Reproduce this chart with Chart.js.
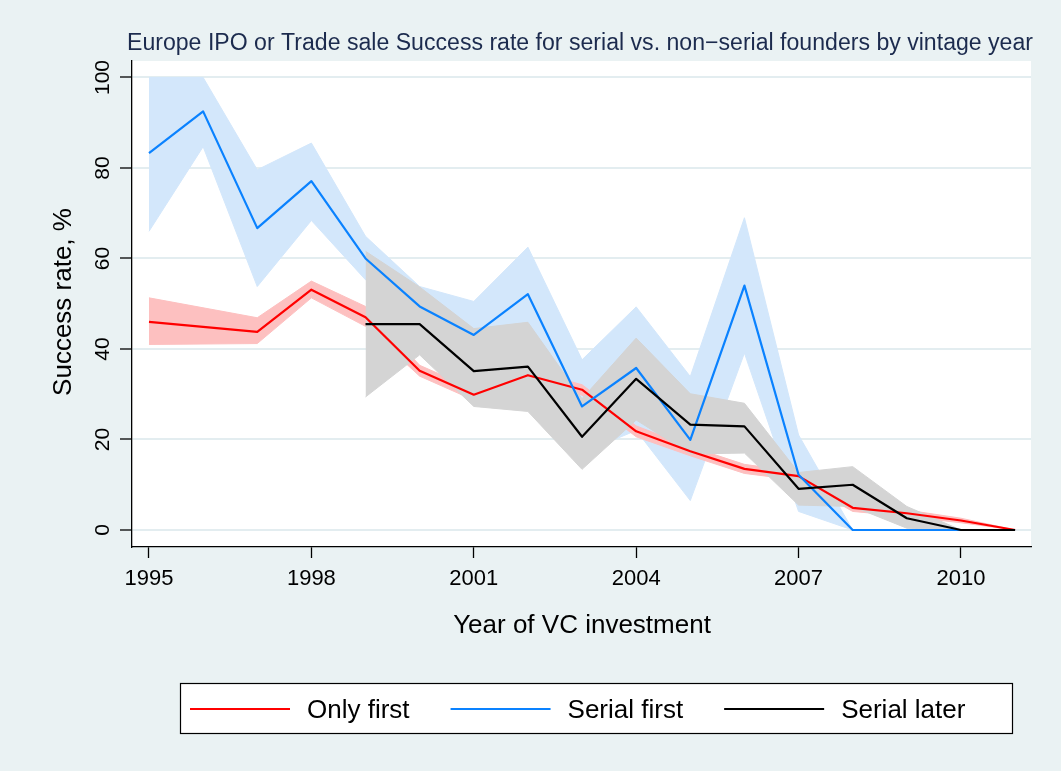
<!DOCTYPE html>
<html lang="en">
<head>
  <meta charset="UTF-8">
  <title>Europe IPO or Trade sale Success rate</title>
  <script src="https://cdn.jsdelivr.net/npm/chart.js"></script>
  <style>
    html, body { margin: 0; padding: 0; background: #eaf2f3; }
    canvas { display: block; }
  </style>
</head>
<body>
<canvas id="chart" width="1061" height="771"></canvas>
<script>
  const FONT = '"Liberation Sans", Arial, Helvetica, sans-serif';

  const titleText = 'Europe IPO or Trade sale Success rate for serial vs. non\u2212serial founders by vintage year';
  const xTitle = 'Year of VC investment';
  const yTitle = 'Success rate, %';

  const years = [1995, 1996, 1997, 1998, 1999, 2000, 2001, 2002, 2003, 2004, 2005, 2006, 2007, 2008, 2009, 2010, 2011];
  const xTicks = [1995, 1998, 2001, 2004, 2007, 2010];
  const yTicks = [0, 20, 40, 60, 80, 100];

  // Only first founders
  const onlyFirst   = [46.0, null, 43.8, 53.1, 47.0, 35.2, 29.9, 34.2, 31.0, 21.8, 17.4, 13.5, 11.9, 4.9, 3.7, 2.1, 0];
  const onlyFirstLo = [41.0, null, 41.2, 51.3, 45.0, 34.0, 28.7, 33.0, 29.8, 20.6, 16.4, 12.5, 11.0, 4.1, 3.0, 1.6, 0];
  const onlyFirstHi = [51.3, null, 46.9, 55.0, 49.4, 36.4, 31.1, 35.4, 32.1, 23.0, 18.4, 14.5, 12.8, 5.8, 4.4, 2.6, 0];

  // Serial founders, first venture
  const serialFirst   = [83.3, 92.5, 66.7, 77.1, 60.0, 49.4, 43.1, 52.1, 27.3, 35.8, 19.9, 54.0, 12.2, 0, 0, 0, null];
  const serialFirstLo = [66.0, 84.7, 53.8, 68.4, 55.3, 45.0, 38.0, 42.0, 17.0, 22.0, 6.5, 39.1, 4.1, 0, 0, 0, null];
  const serialFirstHi = [100, 100, 79.6, 85.5, 64.9, 53.8, 50.5, 62.5, 37.6, 49.3, 33.9, 69.0, 21.0, 0, 0, 0, null];

  // Serial founders, later ventures
  const serialLater   = [null, null, null, null, 45.5, 45.5, 35.1, 36.1, 20.6, 33.4, 23.3, 22.9, 9.1, 10.0, 2.6, 0, 0];
  const serialLaterLo = [null, null, null, null, 29.4, 38.7, 27.3, 26.2, 13.4, 24.3, 16.8, 17.0, 5.5, 5.2, 0.4, 0, 0];
  const serialLaterHi = [null, null, null, null, 61.6, 53.7, 44.5, 45.9, 29.0, 42.4, 30.1, 28.0, 12.7, 14.0, 5.2, 0, 0];

  const seriesNames = ['Only first', 'Serial first', 'Serial later'];
  const lineColors = ['#ff0000', '#0a82ff', '#000000'];
  const bandColors = ['#fdc0c0', '#d3e7fb', '#d4d4d4'];

  function pts(arr) {
    return years.map((x, i) => ({ x: x, y: arr[i] })).filter(p => p.y !== null);
  }

  function bandSets(lo, hi, color) {
    return [
      { label: 'lo', data: pts(lo), borderColor: color, borderWidth: 1, pointRadius: 0, fill: false },
      { label: 'hi', data: pts(hi), borderColor: color, borderWidth: 1, pointRadius: 0, fill: '-1', backgroundColor: color }
    ];
  }

  function lineSet(name, arr, color) {
    return { label: name, data: pts(arr), borderColor: color, borderWidth: 2.2, pointRadius: 0, fill: false, tension: 0 };
  }

  const datasets = [
    ...bandSets(serialFirstLo, serialFirstHi, bandColors[1]),
    ...bandSets(onlyFirstLo, onlyFirstHi, bandColors[0]),
    ...bandSets(serialLaterLo, serialLaterHi, bandColors[2]),
    lineSet(seriesNames[0], onlyFirst, lineColors[0]),
    lineSet(seriesNames[1], serialFirst, lineColors[1]),
    lineSet(seriesNames[2], serialLater, lineColors[2])
  ];
  // first in the list is painted first
  datasets.forEach((d, i) => { d.order = datasets.length - i; });

  const decor = {
    id: 'decor',
    beforeDraw(chart) {
      const { ctx, chartArea: a } = chart;
      ctx.save();
      ctx.fillStyle = '#eaf2f3';
      ctx.fillRect(0, 0, chart.width, chart.height);
      ctx.fillStyle = '#ffffff';
      ctx.fillRect(a.left, a.top, a.right - a.left, a.bottom - a.top);
      ctx.restore();
    },
    afterDraw(chart) {
      const { ctx, chartArea: a } = chart;
      const ys = chart.scales.y;
      ctx.save();

      // title, squeezed a bit like the Stata font
      ctx.fillStyle = '#1c2b4e';
      ctx.font = '23px ' + FONT;
      const tw = ctx.measureText(titleText).width;
      ctx.translate(580, 50);
      ctx.scale(906 / tw, 1);
      ctx.textAlign = 'center';
      ctx.textBaseline = 'alphabetic';
      ctx.fillText(titleText, 0, 0);
      ctx.setTransform(1, 0, 0, 1, 0, 0);

      // y tick labels, rotated
      ctx.fillStyle = '#000';
      ctx.font = '21px ' + FONT;
      ctx.textAlign = 'center';
      yTicks.forEach(v => {
        ctx.save();
        ctx.translate(109, ys.getPixelForValue(v));
        ctx.rotate(-Math.PI / 2);
        ctx.fillText(String(v), 0, 0);
        ctx.restore();
      });

      // axis titles
      ctx.font = '26px ' + FONT;
      ctx.save();
      ctx.translate(71, (a.top + a.bottom) / 2 - 2);
      ctx.rotate(-Math.PI / 2);
      ctx.fillText(yTitle, 0, 0);
      ctx.restore();
      ctx.fillText(xTitle, 582, 633);

      // legend box
      const bx = 180, by = 683, bw = 832, bh = 50;
      ctx.fillStyle = '#fff';
      ctx.fillRect(bx, by, bw, bh);
      ctx.strokeStyle = '#000';
      ctx.lineWidth = 1.2;
      ctx.strokeRect(bx + 0.5, by + 0.5, bw, bh);
      ctx.textAlign = 'left';
      let x = 190;
      const cy = by + bh / 2 + 1;
      seriesNames.forEach((name, i) => {
        ctx.strokeStyle = lineColors[i];
        ctx.lineWidth = 2.2;
        ctx.beginPath();
        ctx.moveTo(x, cy);
        ctx.lineTo(x + 100, cy);
        ctx.stroke();
        x += 117;
        ctx.fillStyle = '#000';
        ctx.fillText(name, x, cy + 9);
        x += ctx.measureText(name).width + 41;
      });
      ctx.restore();
    }
  };

  new Chart(document.getElementById('chart').getContext('2d'), {
    type: 'line',
    data: { datasets: datasets },
    options: {
      responsive: false,
      animation: false,
      layout: { padding: { top: 61, right: 30, bottom: 0, left: 0 }, autoPadding: false },
      elements: { line: { tension: 0, borderJoinStyle: 'round' } },
      plugins: {
        legend: { display: false },
        tooltip: { enabled: false },
        filler: { propagate: false }
      },
      scales: {
        x: {
          type: 'linear',
          min: 1994.686,
          max: 2011.294,
          afterBuildTicks: s => { s.ticks = xTicks.map(v => ({ value: v })); },
          afterFit: s => { s.height = 224; },
          ticks: {
            color: '#000',
            font: { family: FONT, size: 22 },
            padding: 8,
            maxRotation: 0,
            autoSkip: false,
            callback: v => String(v)
          },
          grid: { display: true, drawOnChartArea: false, tickLength: 11, tickColor: '#000', tickWidth: 1.3 },
          border: { display: true, color: '#000', width: 1.3 }
        },
        y: {
          type: 'linear',
          min: -3.76,
          max: 103.64,
          afterBuildTicks: s => { s.ticks = yTicks.map(v => ({ value: v })); },
          afterFit: s => { s.width = 132; },
          ticks: { display: false },
          grid: { color: '#e3edf0', lineWidth: 2, tickLength: 12, tickColor: '#000', tickWidth: 1.3 },
          border: { display: true, color: '#000', width: 1.3 }
        }
      }
    },
    plugins: [decor]
  });
</script>
</body>
</html>
